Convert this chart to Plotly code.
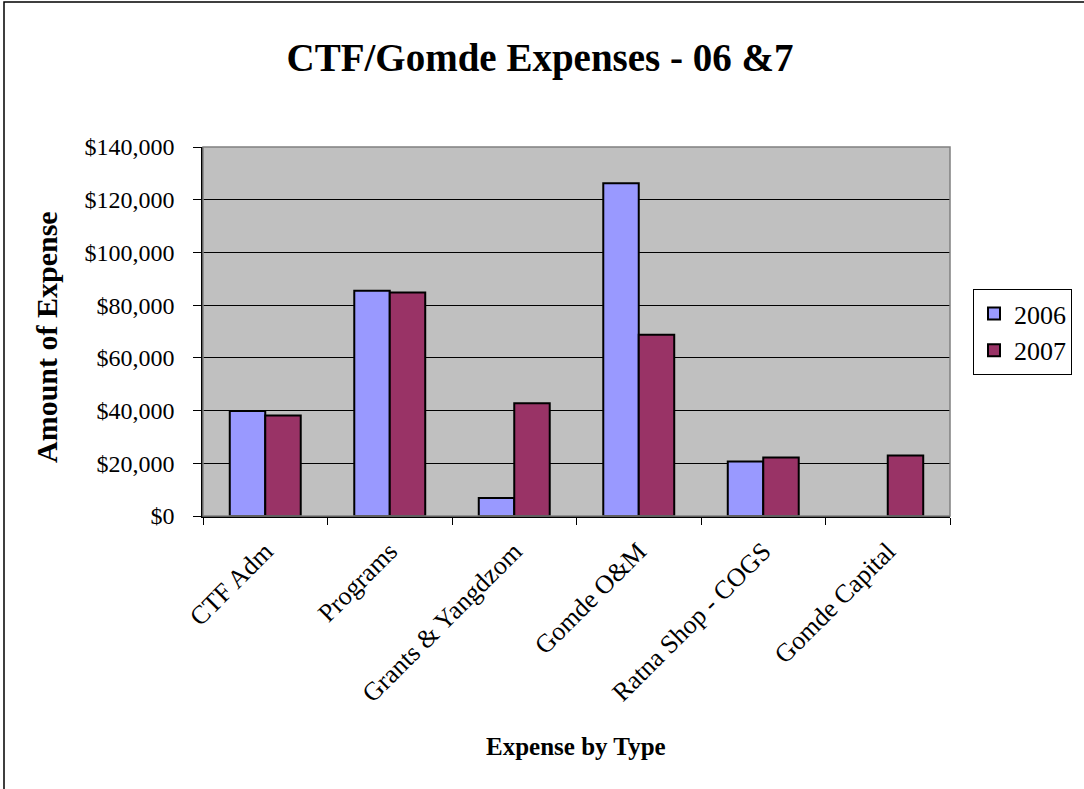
import plotly.graph_objects as go

categories = ["CTF Adm", "Programs", "Grants & Yangdzom", "Gomde O&M", "Ratna Shop - COGS", "Gomde Capital"]
values_2006 = [39800, 85500, 6800, 126200, 20700, None]
values_2007 = [38100, 84800, 42800, 68800, 22200, 23000]
y_ticks = [0, 20000, 40000, 60000, 80000, 100000, 120000, 140000]
y_tick_labels = ["$0", "$20,000", "$40,000", "$60,000", "$80,000", "$100,000", "$120,000", "$140,000"]

FONT = "Liberation Serif, Times New Roman, serif"

fig = go.Figure()
fig.add_trace(go.Bar(name="2006", x=categories, y=values_2006,
                     marker=dict(color="#9999FF", line=dict(color="black", width=2))))
fig.add_trace(go.Bar(name="2007", x=categories, y=values_2007,
                     marker=dict(color="#993366", line=dict(color="black", width=2))))

W, H = 1084, 789
L, R, T, B = 203, 950, 147, 516
pw, ph = R - L, B - T

fig.update_layout(
    width=W, height=H,
    margin=dict(l=L, r=W - R, t=T, b=H - B, autoexpand=False),
    paper_bgcolor="white",
    plot_bgcolor="#C0C0C0",
    barmode="group",
    bargap=0.43,
    bargroupgap=0,
    font=dict(family=FONT, color="black"),
    title=dict(text="<b>CTF/Gomde Expenses - 06 &7</b>", x=540 / W, xanchor="center",
               y=1 - 57 / H, yanchor="middle", font=dict(size=39, family=FONT)),
    legend=dict(x=(973 - L) / pw, xanchor="left", y=(B - 289) / ph, yanchor="top",
                bgcolor="white", bordercolor="black", borderwidth=1,
                font=dict(size=26, family=FONT), tracegroupgap=0, itemsizing="constant"),
    xaxis=dict(
        showline=True, linecolor="black", linewidth=1.5,
        ticks="outside", tickson="boundaries", ticklen=7, tickcolor="black", tickwidth=1,
        tickangle=-45, tickfont=dict(size=26, family=FONT),
        ticklabelstandoff=8,
    ),
    yaxis=dict(
        range=[0, 140000], tickvals=y_ticks, ticktext=y_tick_labels,
        showline=True, linecolor="black", linewidth=1.5,
        ticks="outside", ticklen=8, tickcolor="black", tickwidth=1,
        ticklabelstandoff=14,
        tickfont=dict(size=24, family=FONT),
        showgrid=True, gridcolor="black", gridwidth=1,
        zeroline=False,
    ),
    shapes=[
        dict(type="rect", xref="paper", yref="paper",
             x0=(4 - L) / pw, x1=(1095 - L) / pw, y0=(B - 800) / ph, y1=(B - 2) / ph,
             line=dict(color="black", width=1.5), fillcolor="rgba(0,0,0,0)", layer="below"),
        dict(type="rect", xref="paper", yref="paper", x0=0, x1=1, y0=0, y1=1,
             line=dict(color="#808080", width=1.5), fillcolor="rgba(0,0,0,0)"),
    ],
    annotations=[
        dict(text="<b>Amount of Expense</b>", xref="paper", yref="paper",
             x=(46 - L) / pw, y=(B - 337) / ph, xanchor="center", yanchor="middle",
             textangle=-90, showarrow=False, font=dict(size=30, family=FONT)),
        dict(text="<b>Expense by Type</b>", xref="paper", yref="paper",
             x=(576 - L) / pw, y=(B - 746) / ph, xanchor="center", yanchor="middle",
             showarrow=False, font=dict(size=25, family=FONT)),
    ],
)

fig.write_html("out.html", config={"displayModeBar": False},
               post_script="document.body.style.margin='0';document.body.style.overflow='hidden';")
